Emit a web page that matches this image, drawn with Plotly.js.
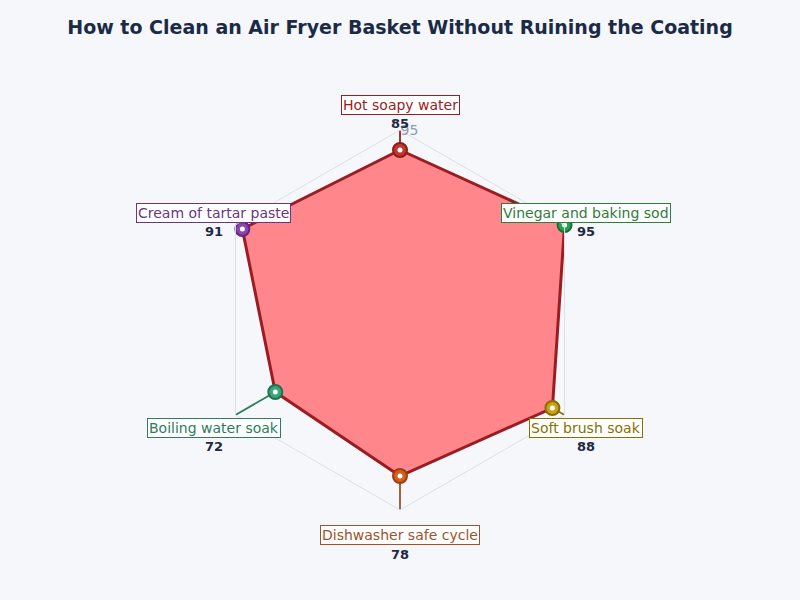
<!DOCTYPE html>
<html>
<head>
<meta charset="utf-8">
<script src="https://cdn.plot.ly/plotly-3.0.1.min.js"></script>
<style>html,body{margin:0;padding:0;background:#f5f7fb;}#chart{width:800px;height:600px;}</style>
</head>
<body>
<div id="chart"></div>
<script>
const categories = ["Hot soapy water","Vinegar and baking soda","Soft brush soak","Dishwasher safe cycle","Boiling water soak","Cream of tartar paste"];
const labels = ["Hot soapy water","Vinegar and baking sod","Soft brush soak","Dishwasher safe cycle","Boiling water soak","Cream of tartar paste"];
const scores = [85, 95, 88, 78, 72, 91];
const markerColors = ["#c0392b","#27a352","#c9a317","#d35f1f","#3aa57a","#8e44ad"];
const markerLines = ["#8e1b1b","#1d6b37","#8a6d00","#9a3f10","#1f7250","#5e2a79"];
const textColors = ["#9b1c22","#2e7d3a","#8a7000","#a0522d","#2e7d5b","#6c3483"];
const outerR = 95;

const traces = [];
traces.push({
  type: "scatterpolar",
  r: scores.concat([scores[0]]),
  theta: categories.concat([categories[0]]),
  mode: "lines",
  fill: "toself",
  fillcolor: "#ff868b",
  line: {color: "#9b1c22", width: 3},
  hoverinfo: "skip",
  showlegend: false
});
categories.forEach((c, i) => {
  traces.push({
    type: "scatterpolar",
    r: [scores[i], outerR],
    theta: [c, c],
    mode: "lines",
    line: {color: textColors[i], width: 1.8},
    hoverinfo: "skip",
    showlegend: false
  });
});
traces.push({
  type: "scatterpolar",
  r: scores,
  theta: categories,
  mode: "markers",
  marker: {size: 14, color: markerColors, line: {color: markerLines, width: 2}},
  showlegend: false
});
traces.push({
  type: "scatterpolar",
  r: scores,
  theta: categories,
  mode: "markers",
  marker: {size: 5, color: "#ffffff"},
  hoverinfo: "skip",
  showlegend: false
});

const W = 600, H = 380, labelPx = 215;
const annotations = [];
categories.forEach((c, i) => {
  const ang = (90 - i * 60) * Math.PI / 180;
  const x = 0.5 + labelPx * Math.cos(ang) / W;
  const y = 0.5 + labelPx * Math.sin(ang) / H;
  annotations.push({
    xref: "paper", yref: "paper", x: x, y: y,
    text: labels[i], showarrow: false,
    xanchor: "center", yanchor: "middle",
    font: {family: "DejaVu Sans", size: 14, color: textColors[i]},
    bgcolor: "#ffffff", bordercolor: textColors[i], borderwidth: 1, borderpad: 1
  });
  annotations.push({
    xref: "paper", yref: "paper", x: x, y: y, yshift: -19,
    text: "<b>" + scores[i] + "</b>", showarrow: false,
    xanchor: "center", yanchor: "middle",
    font: {family: "DejaVu Sans", size: 13, color: "#1e2a44"}
  });
});

const layout = {
  width: 800, height: 600,
  paper_bgcolor: "#f5f7fb",
  font: {family: "DejaVu Sans"},
  margin: {l: 100, r: 100, t: 130, b: 90},
  title: {text: "<b>How to Clean an Air Fryer Basket Without Ruining the Coating</b>",
          x: 0.5, xanchor: "center", y: 0.955, yanchor: "middle",
          font: {family: "DejaVu Sans", size: 19, color: "#1b2a47"}},
  showlegend: false,
  polar: {
    bgcolor: "#f5f7fb",
    gridshape: "linear",
    domain: {x: [0, 1], y: [0, 1]},
    radialaxis: {range: [0, outerR], angle: 90, tickangle: 90, tickvals: [95], ticktext: ["95"],
                 showline: false, ticks: "", gridcolor: "#e2e5ec",
                 tickfont: {size: 14, color: "#8e9bb0"}},
    angularaxis: {direction: "clockwise", rotation: 90, showticklabels: false, ticks: "",
                  gridcolor: "#e2e5ec", linecolor: "#dcdfe6", showline: true}
  },
  annotations: annotations
};
Plotly.newPlot("chart", traces, layout, {displayModeBar: false});
</script>
</body>
</html>
